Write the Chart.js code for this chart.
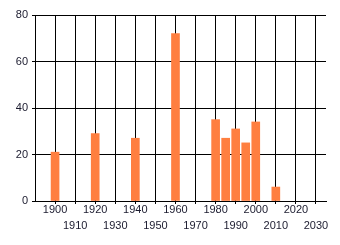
<!DOCTYPE html>
<html>
<head>
<meta charset="utf-8">
<script src="https://cdn.jsdelivr.net/npm/chart.js@4/dist/chart.umd.min.js"></script>
<style>
  body { margin: 0; background: #fff; }
  #wrap { width: 340px; height: 245px; position: relative; }
</style>
</head>
<body>
<div id="wrap"><canvas id="chart"></canvas></div>
<script>
// Bar values (year -> value)
const years = [1900, 1920, 1940, 1960, 1980, 1985, 1990, 1995, 2000, 2010];
const values = [21, 29, 27, 72, 35, 27, 31, 25, 34, 6];
const xTicks = [1900, 1910, 1920, 1930, 1940, 1950, 1960, 1970, 1980, 1990, 2000, 2010, 2020, 2030];
const yTicks = [0, 20, 40, 60, 80];

const points = years.map((y, i) => ({ x: y, y: values[i] }));
const textColor = '#1a1a2e';
const font = { family: 'Liberation Sans, Arial, sans-serif', size: 11, lineHeight: '16px' };

new Chart(document.getElementById('chart'), {
  type: 'bar',
  data: {
    datasets: [{
      data: points,
      backgroundColor: '#ff7f40',
      borderWidth: 0,
      barThickness: 8
    }]
  },
  options: {
    responsive: true,
    maintainAspectRatio: false,
    animation: false,
    layout: { padding: { top: 15, right: 14, left: 0, bottom: 0 } },
    plugins: { legend: { display: false }, tooltip: { enabled: false } },
    scales: {
      x: {
        type: 'linear',
        min: 1890,
        max: 2035,
        offset: false,
        afterBuildTicks: s => { s.ticks = xTicks.map(v => ({ value: v })); },
        afterFit: s => { s.height = 44; },
        grid: { color: '#000', lineWidth: 1, tickLength: 3, offset: false },
        border: { color: '#000' },
        ticks: {
          autoSkip: false,
          maxRotation: 0,
          padding: -2,
          color: textColor,
          font: font,
          callback: (v, i) => i % 2 === 0 ? [String(v), ''] : ['', String(v)]
        }
      },
      y: {
        min: 0,
        max: 80,
        afterBuildTicks: s => { s.ticks = yTicks.map(v => ({ value: v })); },
        afterFit: s => { s.width = 35; },
        grid: { color: '#000', lineWidth: 1, tickLength: 3 },
        border: { color: '#000' },
        ticks: { padding: 4, color: textColor, font: font }
      }
    }
  }
});
</script>
</body>
</html>
